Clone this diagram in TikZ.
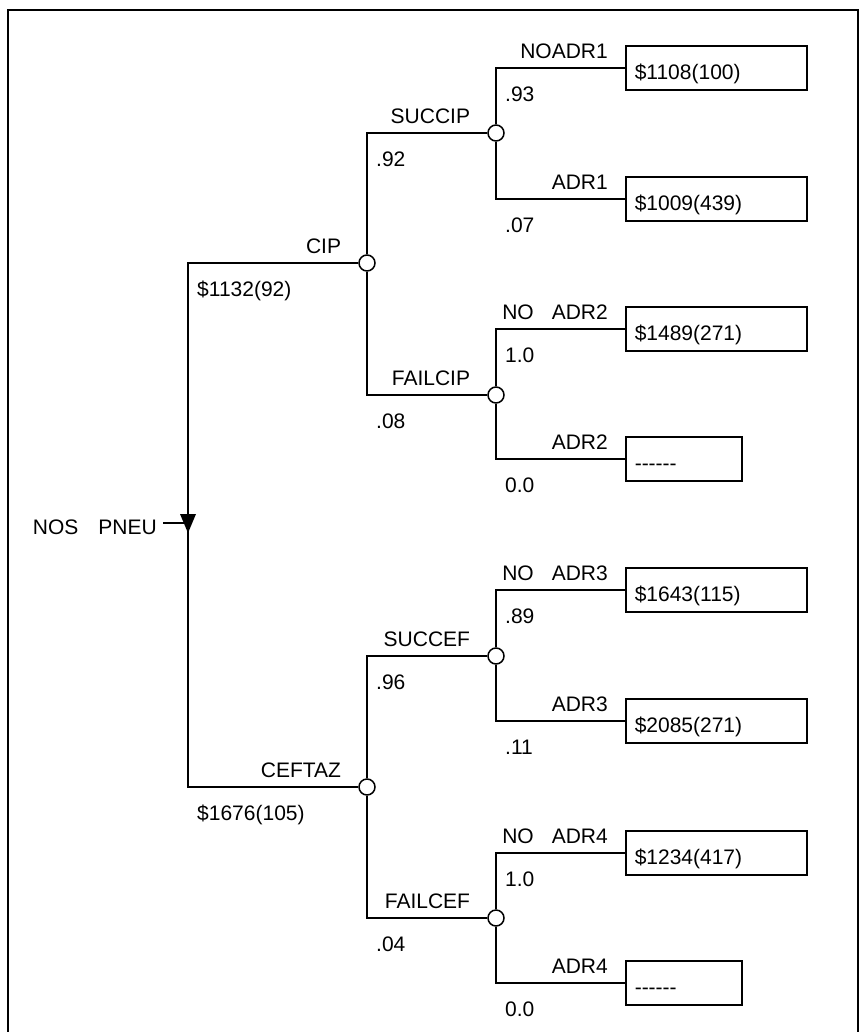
\documentclass[tikz,border=0pt]{standalone}
\usepackage{fontspec}
\setmainfont{Liberation Sans}
\usepackage{tikz}
\usetikzlibrary{calc}
\newcommand{\branch}[4]{
	\draw[tree] (#1) |- (#2); % connector from parent to child
	\node[lbl, anchor=base east] at ($(#2.west)+(-17,-10)$) {#3}; % name of the branch
	\node[lbl, anchor=base west] at ($(#1 |- #2)+(9,33)$) {#4}; % probability or cost
}
\newcommand{\nocost}{\mbox{-}\mbox{-}\mbox{-}\mbox{-}\mbox{-}\mbox{-}}

\begin{document}
\begin{tikzpicture}[x=1bp,y=-1bp,
	font=\fontsize{21bp}{25bp}\selectfont,
	tree/.style={line width=1.8bp},
	lbl/.style={inner sep=0pt},
	chance/.style={circle, draw, fill=white, line width=1.5bp, minimum size=16bp, inner sep=0pt},
	outcome/.style={draw, line width=1.5bp, anchor=west, minimum height=44bp, inner xsep=9bp, text height=22bp, text depth=0bp, align=left}]
	\useasboundingbox (0,0) rectangle (864,1032);
	% draw the frame
	\draw[line width=2.5bp] (8,1032) -- (8,10) -- (858,10) -- (858,1032);
	
	% decision node and chance nodes
	\coordinate (pneu) at (188,523);
	\node[lbl, anchor=east, inner xsep=6bp] (nospneu) at (163,527) {NOS\hspace{20bp}PNEU};
	\foreach \nm/\xx/\yy in {cip/367/263, succip/496/133, failcip/496/395, ceftaz/367/787, succef/496/656, failcef/496/918}
		\node[chance] (\nm) at (\xx,\yy) {};
	
	% outcome boxes
	\foreach \nm/\yy/\cost in {noadr1/68/\$1108(100), adr1/199/\$1009(439), noadr2/329/\$1489(271), noadr3/590/\$1643(115), adr3/721/\$2085(271), noadr4/853/\$1234(417)}
		\node[outcome, text width=163bp] (\nm) at (625,\yy) {\cost};
	\foreach \nm/\yy in {adr2/459, adr4/983}
		\node[outcome, text width=98bp] (\nm) at (625,\yy) {\nocost};
	
	% branches
	\branch{pneu}{cip}{CIP}{\$1132(92)}
	\branch{pneu}{ceftaz}{CEFTAZ}{\$1676(105)}
	\branch{cip}{succip}{SUCCIP}{.92}
	\branch{cip}{failcip}{FAILCIP}{.08}
	\branch{succip}{noadr1}{NOADR1}{.93}
	\branch{succip}{adr1}{ADR1}{.07}
	\branch{failcip}{noadr2}{NO\hspace{18bp}ADR2}{1.0}
	\branch{failcip}{adr2}{ADR2}{0.0}
	\branch{ceftaz}{succef}{SUCCEF}{.96}
	\branch{ceftaz}{failcef}{FAILCEF}{.04}
	\branch{succef}{noadr3}{NO\hspace{18bp}ADR3}{.89}
	\branch{succef}{adr3}{ADR3}{.11}
	\branch{failcef}{noadr4}{NO\hspace{18bp}ADR4}{1.0}
	\branch{failcef}{adr4}{ADR4}{0.0}
	
	% the decision triangle
	\draw[tree] (nospneu.east |- pneu) -- (pneu);
	\fill ($(pneu)+(-8,-9)$) -- ($(pneu)+(8,-9)$) -- ($(pneu)+(0,10)$) -- cycle;
\end{tikzpicture}
\end{document}
